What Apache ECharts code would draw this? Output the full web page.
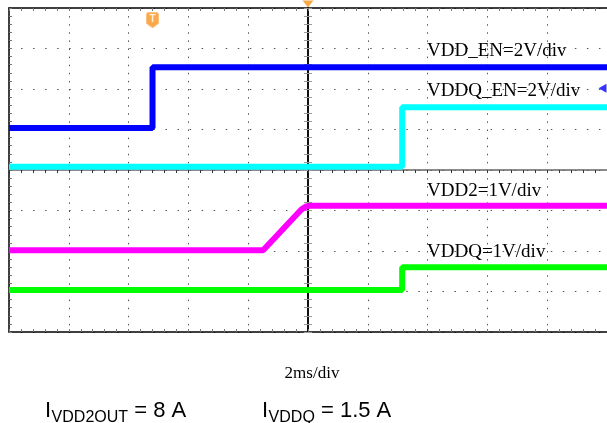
<!DOCTYPE html>
<html><head><meta charset="utf-8">
<script src="https://cdn.jsdelivr.net/npm/echarts@6/dist/echarts.min.js"></script>
<style>html,body{margin:0;padding:0;background:#fff}#c{width:607px;height:423px}</style>
</head><body><div id="c"></div>
<script>
// Time in ms (2 ms/div, trigger at 0); amplitude in screen divisions
const vddEnT  = [-10, -5.2, -5.2, 10];
const vddEnV  = [1.04, 1.04, 2.54, 2.54];
const vddqEnT = [-10, 3.15, 3.15, 10];
const vddqEnV = [0.08, 0.08, 1.55, 1.55];
const vdd2T   = [-10, -1.5, -0.23, -0.07, 0.12, 10];
const vdd2V   = [-1.98, -1.98, -0.98, -0.9, -0.88, -0.88];
const vddqT   = [-10, 3.15, 3.15, 10];
const vddqV   = [-2.96, -2.96, -2.4, -2.4];
const traceNames = ['VDD_EN=2V/div', 'VDDQ_EN=2V/div', 'VDD2=1V/div', 'VDDQ=1V/div'];
const timebaseLabel = '2ms/div';
const currentLabels = [['I', 'VDD2OUT', ' = 8 A'], ['I', 'VDDQ', ' = 1.5 A']];
// scope markers: trigger position, trigger time marker, channel reference marker
const triggerMark = [-5.2, 3.7];
const timeMark = [0, 4];
const refMark = [9.85, 2.02];

const chart = echarts.init(document.getElementById('c'));
const pair = (ts, vs) => ts.map((t, i) => [t, vs[i]]);
const GRID = {left: 9, top: 8, width: 602, height: 324};
const serif = '"Liberation Serif","Times New Roman",serif';
const sans = '"Liberation Sans",Arial,sans-serif';

const ctx = document.createElement('canvas').getContext('2d');
function tw(text, size, fam) { ctx.font = size + 'px ' + fam; return ctx.measureText(text).width; }

function line(name, data, color) {
  return {type: 'line', name, data, showSymbol: false, animation: false, z: 3,
    lineStyle: {color, width: 6}, itemStyle: {color}};
}
const xBase = {type: 'value', min: -10, max: 10, interval: 2, axisLabel: {show: false}};
const yBase = {type: 'value', min: -4, max: 4, interval: 1, axisLabel: {show: false}};
const tickGray = {color: '#777', width: 1};

const graphics = [];
const labelX = 427;
const labelY = [50.7, 91.5, 191, 252];
traceNames.forEach((t, i) => graphics.push({type: 'text', x: labelX, y: labelY[i], z: 10,
  style: {text: t, fontSize: 19, fontFamily: serif, fill: '#000', verticalAlign: 'middle'}}));
graphics.push({type: 'text', x: 312, y: 374, style: {text: timebaseLabel, fontSize: 17, fontFamily: serif,
  fill: '#000', align: 'center', verticalAlign: 'middle'}});
const bigF = 22, subF = 16, baseY = 417;
[45, 262].forEach((x0, k) => {
  const [a, s, b] = currentLabels[k];
  let x = x0;
  graphics.push({type: 'text', x, y: baseY + bigF * 0.212, style: {text: a, fontSize: bigF, fontFamily: sans, fill: '#000', verticalAlign: 'bottom'}});
  x += tw(a, bigF, sans) + 0.5;
  graphics.push({type: 'text', x, y: baseY + 5 + subF * 0.212, style: {text: s, fontSize: subF, fontFamily: sans, fill: '#000', verticalAlign: 'bottom'}});
  x += tw(s, subF, sans);
  graphics.push({type: 'text', x, y: baseY + bigF * 0.212, style: {text: b, fontSize: bigF, fontFamily: sans, fill: '#000', verticalAlign: 'bottom'}});
});

chart.setOption({
  animation: false,
  backgroundColor: '#fff',
  grid: GRID,
  xAxis: [
    Object.assign({}, xBase, {position: 'bottom',
      axisLine: {onZero: false, lineStyle: {color: '#000', width: 1.5}},
      axisTick: {show: true, inside: true, length: 3, lineStyle: tickGray},
      minorTick: {show: true, splitNumber: 5, length: 3, lineStyle: tickGray},
      splitLine: {show: true, lineStyle: {color: '#555', width: 1, type: [1.5, 6.6]}}}),
    Object.assign({}, xBase, {position: 'top',
      axisLine: {onZero: false, lineStyle: {color: '#000', width: 1.5}},
      axisTick: {show: true, inside: true, length: 3, lineStyle: tickGray},
      minorTick: {show: true, splitNumber: 5, length: 3, lineStyle: tickGray},
      splitLine: {show: false}}),
    Object.assign({}, xBase, {position: 'bottom',
      axisLine: {onZero: true, onZeroAxisIndex: 0, lineStyle: {color: '#666', width: 1.5}},
      axisTick: {show: true, inside: false, length: 3, lineStyle: {color: '#333'}},
      minorTick: {show: true, splitNumber: 5, length: 3, lineStyle: {color: '#333'}},
      splitLine: {show: false}})
  ],
  yAxis: [
    Object.assign({}, yBase, {position: 'left',
      axisLine: {onZero: false, lineStyle: {color: '#000', width: 1.5}},
      axisTick: {show: true, inside: true, length: 3, lineStyle: tickGray},
      minorTick: {show: true, splitNumber: 5, length: 3, lineStyle: tickGray},
      splitLine: {show: true, lineStyle: {color: '#555', width: 1, type: [1.5, 10.54]}}}),
    Object.assign({}, yBase, {position: 'left',
      axisLine: {onZero: true, onZeroAxisIndex: 0, lineStyle: {color: '#000', width: 1.5}},
      axisTick: {show: true, inside: true, length: 4, lineStyle: {color: '#999'}},
      minorTick: {show: true, splitNumber: 5, length: 4, lineStyle: {color: '#999'}},
      splitLine: {show: false}}),
    Object.assign({}, yBase, {position: 'left',
      axisLine: {onZero: true, onZeroAxisIndex: 0, lineStyle: {color: '#000', width: 1.5}},
      axisTick: {show: true, inside: false, length: 4, lineStyle: {color: '#999'}},
      minorTick: {show: true, splitNumber: 5, length: 4, lineStyle: {color: '#999'}},
      splitLine: {show: false}})
  ],
  series: [
    line('VDD_EN', pair(vddEnT, vddEnV), '#0000ff'),
    line('VDDQ_EN', pair(vddqEnT, vddqEnV), '#00ffff'),
    line('VDD2', pair(vdd2T, vdd2V), '#ff00ff'),
    line('VDDQ', pair(vddqT, vddqV), '#00ff00'),
    {type: 'scatter', clip: false, z: 5, animation: false, data: [
      {value: triggerMark, symbol: 'path://M2,0 H10 Q12,0 12,2 V10 L6,14 L0,10 V2 Q0,0 2,0 Z', symbolSize: [12, 15],
        itemStyle: {color: '#f7941d', borderColor: '#fbb870', borderWidth: 1},
        label: {show: true, position: 'inside', formatter: 'T', color: '#fff', fontWeight: 'bold', fontSize: 10, offset: [0, -1], fontFamily: sans}},
      {value: timeMark, symbol: 'triangle', symbolRotate: 180, symbolSize: [11, 7], symbolOffset: [0, -4],
        itemStyle: {color: '#f7941d'}},
      {value: refMark, symbol: 'triangle', symbolRotate: 90, symbolSize: [9, 8],
        itemStyle: {color: '#0000ff'}}
    ]}
  ],
  graphic: graphics
});
</script></body></html>
